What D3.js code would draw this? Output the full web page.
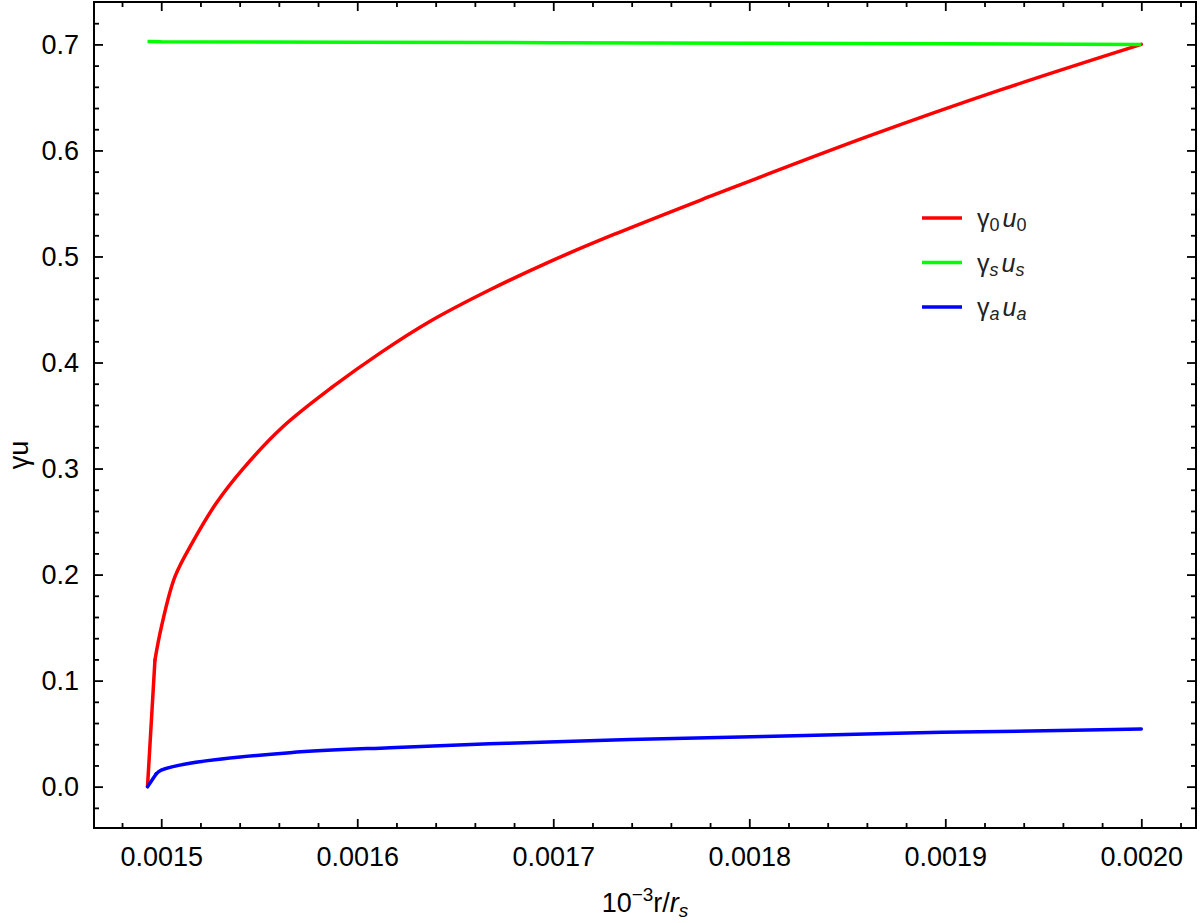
<!DOCTYPE html>
<html><head><meta charset="utf-8">
<script src="https://cdn.jsdelivr.net/npm/d3@7"></script>
<style>
html,body{margin:0;padding:0;background:#fff;}
svg{display:block;font-family:"Liberation Sans",Arial,sans-serif;}
</style></head>
<body>
<svg id="chart" width="1200" height="923"></svg>
<script>
// ---- data ----
const redX   = [0.001493,0.0014968,0.0015,0.001507,0.0015163,0.0015283,0.0015418,0.0015622,0.0015877,0.0016116,0.001637,0.0016677,0.0016966,0.0017306,0.0017799,0.0018026,0.0018605,0.0019285,0.0020];
const redY   = [0,0.1195,0.150,0.198,0.2315,0.268,0.300,0.3396,0.3774,0.4089,0.4387,0.4686,0.4938,0.5205,0.5566,0.5728,0.6132,0.6573,0.7000];
const greenX = [0.001493,0.0015,0.0016,0.0017,0.0018,0.0019,0.0020];
const greenY = [0.7028,0.7024,0.7020,0.7016,0.7012,0.7007,0.7000];
const blueX  = [0.001493,0.0014974,0.0015,0.0015146,0.0015657,0.0016167,0.0016762,0.0017391,0.0018071,0.0018751,0.0019432,0.0020];
const blueY  = [0,0.012,0.0155,0.022,0.032,0.0368,0.0409,0.0445,0.0472,0.0504,0.0525,0.0544];
const xTicks = [0.0015,0.0016,0.0017,0.0018,0.0019,0.0020];
const yTicks = [0.0,0.1,0.2,0.3,0.4,0.5,0.6,0.7];
const seriesNames = ["0","s","a"];
const seriesColors = ["#ff0000","#00ff00","#0000ff"];

// ---- layout ----
const svg = d3.select("#chart");
const L = 94, R = 1196, T = 2, B = 828;
const x = d3.scaleLinear().domain([0.0014657, 0.0020279]).range([L, R]);
const y = d3.scaleLinear().domain([-0.039, 0.740]).range([B, T]);

const xMinor = d3.range(0.00148, 0.00203, 0.00002).filter(v => !xTicks.some(t => Math.abs(t - v) < 1e-9));
const yMinor = d3.range(-0.02, 0.74, 0.02).filter(v => !yTicks.some(t => Math.abs(t - v) < 1e-9));

function styleAxis(g){
  g.select(".domain").remove();
  g.selectAll("line").attr("stroke","#000").attr("stroke-width",1.8);
  g.selectAll("text").attr("fill","#000").attr("font-size",27).attr("font-family","Liberation Sans, Arial, sans-serif");
}
// bottom
svg.append("g").attr("transform",`translate(0,${B})`)
  .call(d3.axisBottom(x).tickValues(xTicks).tickSize(-9).tickPadding(19).tickFormat(d3.format(".4f")))
  .call(styleAxis);
svg.append("g").attr("transform",`translate(0,${B})`)
  .call(d3.axisBottom(x).tickValues(xMinor).tickSize(-5).tickFormat(""))
  .call(styleAxis);
// top
svg.append("g").attr("transform",`translate(0,${T})`)
  .call(d3.axisTop(x).tickValues(xTicks).tickSize(-9).tickFormat(""))
  .call(styleAxis);
svg.append("g").attr("transform",`translate(0,${T})`)
  .call(d3.axisTop(x).tickValues(xMinor).tickSize(-5).tickFormat(""))
  .call(styleAxis);
// left
svg.append("g").attr("transform",`translate(${L},0)`)
  .call(d3.axisLeft(y).tickValues(yTicks).tickSize(-9).tickPadding(15).tickFormat(d3.format(".1f")))
  .call(styleAxis);
svg.append("g").attr("transform",`translate(${L},0)`)
  .call(d3.axisLeft(y).tickValues(yMinor).tickSize(-5).tickFormat(""))
  .call(styleAxis);
// right
svg.append("g").attr("transform",`translate(${R},0)`)
  .call(d3.axisRight(y).tickValues(yTicks).tickSize(-9).tickFormat(""))
  .call(styleAxis);
svg.append("g").attr("transform",`translate(${R},0)`)
  .call(d3.axisRight(y).tickValues(yMinor).tickSize(-5).tickFormat(""))
  .call(styleAxis);

// frame
svg.append("rect").attr("x",L).attr("y",T).attr("width",R-L).attr("height",B-T)
  .attr("fill","none").attr("stroke","#000").attr("stroke-width",2);

// lines: straight first segment (the sharp initial rise), smooth afterwards
const straight = d3.line().x(d => x(d[0])).y(d => y(d[1]));
const smooth = d3.line().x(d => x(d[0])).y(d => y(d[1])).curve(d3.curveCatmullRom.alpha(0.5));
const series = [
  d3.zip(redX, redY),
  d3.zip(greenX, greenY),
  d3.zip(blueX, blueY)
];
series.forEach((s,i) => {
  const g = svg.append("g").attr("fill","none").attr("stroke", seriesColors[i])
    .attr("stroke-width",3.5).attr("stroke-linejoin","round").attr("stroke-linecap","round");
  if (i === 1) {
    g.append("path").datum(s).attr("d", straight).attr("stroke-linecap","butt");
  } else {
    g.append("path").datum(s.slice(0,2)).attr("d", straight);
    g.append("path").datum(s.slice(1)).attr("d", smooth);
  }
});

// legend
const legY = [218, 262.5, 307];
seriesNames.forEach((n,i) => {
  svg.append("line").attr("x1",922).attr("x2",962).attr("y1",legY[i]).attr("y2",legY[i])
    .attr("stroke",seriesColors[i]).attr("stroke-width",3.5);
  const t = svg.append("text").attr("x",977).attr("y",legY[i]+9)
    .attr("font-size",25).attr("fill","#222");
  t.append("tspan").text("γ");
  t.append("tspan").attr("dy",4).attr("font-size",18).attr("font-style", n==="0"?"normal":"italic").text(n);
  t.append("tspan").attr("dy",-4).attr("dx",3).attr("font-style","italic").text("u");
  t.append("tspan").attr("dy",4).attr("font-size",18).attr("font-style", n==="0"?"normal":"italic").text(n);
});

// axis labels
const xl = svg.append("text").attr("x",(L+R)/2).attr("y",912).attr("text-anchor","middle")
  .attr("font-size",27).attr("fill","#000");
xl.append("tspan").text("10");
xl.append("tspan").attr("dy",-11).attr("font-size",19).text("−3");
xl.append("tspan").attr("dy",11).text("r/");
xl.append("tspan").attr("font-style","italic").text("r");
xl.append("tspan").attr("dy",5).attr("font-size",19).attr("font-style","italic").text("s");

svg.append("text").attr("transform","translate(28,455) rotate(-90)").attr("text-anchor","middle")
  .attr("font-size",27).attr("fill","#000").text("γu");
</script>
</body></html>
